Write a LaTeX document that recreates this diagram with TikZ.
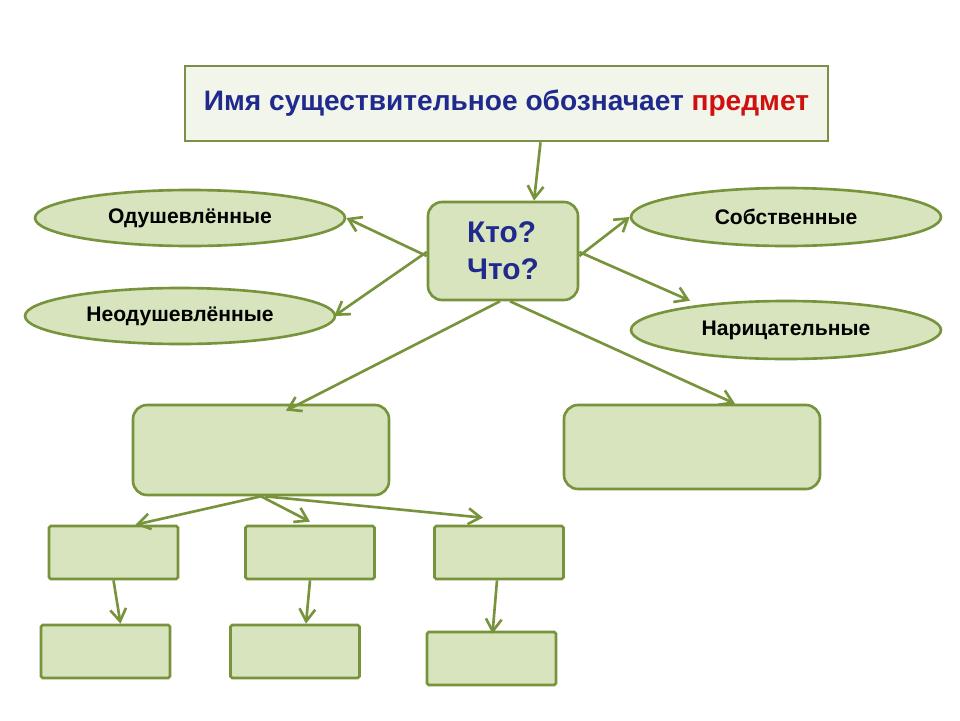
\documentclass[tikz,border=0pt]{standalone}
\usepackage{fontspec}
\setmainfont{Liberation Sans}
\usetikzlibrary{shapes.geometric}
\definecolor{boxfill}{HTML}{D7E4BD}
\definecolor{boxline}{HTML}{77933C}
\definecolor{titlefill}{HTML}{F2F5EA}
\definecolor{darkblue}{HTML}{1F2A8C}
\definecolor{redword}{HTML}{D01010}
\tikzset{
  box/.style={draw=boxline,line width=1.5pt,fill=boxfill,rounded corners=3pt,inner sep=0pt},
  oval/.style={draw=boxline,line width=1.5pt,fill=boxfill,ellipse,inner sep=0pt,font=\bfseries\fontsize{12}{14}\selectfont},
  link/.style={draw=boxline,line width=1.5pt,-{Straight Barb[length=7pt,width=9pt]}}
}
\usetikzlibrary{arrows.meta}
\begin{document}
\begin{tikzpicture}[x=0.02cm,y=-0.02cm]
  \useasboundingbox (0,0) rectangle (960,720);
  \node[draw=boxline!80!gray,line width=1.5pt,fill=titlefill,minimum width=643*0.02cm,minimum height=75*0.02cm,font=\bfseries\fontsize{16}{20}\selectfont]
    (title) at (506.5,103.5) {\textcolor{darkblue}{Имя существительное обозначает} \textcolor{redword}{предмет}};
  \node[box,rounded corners=8pt,minimum width=150*0.02cm,minimum height=98*0.02cm,align=left,font=\bfseries\fontsize{17}{21}\selectfont,text=darkblue]
    (kto) at (503,251) {Кто?\\Что?};
  \node[oval,minimum width=310*0.02cm,minimum height=56*0.02cm] (odush) at (190,218) {Одушевлённые};
  \node[oval,minimum width=310*0.02cm,minimum height=56*0.02cm] (neodush) at (180,316) {Неодушевлённые};
  \node[oval,minimum width=310*0.02cm,minimum height=58*0.02cm] (sobst) at (786,217) {Собственные};
  \node[oval,minimum width=310*0.02cm,minimum height=58*0.02cm] (naric) at (786,330) {Нарицательные};

  \node[box,rounded corners=8pt,minimum width=256*0.02cm,minimum height=90*0.02cm] (bigL) at (261,450) {};
  \node[box,rounded corners=8pt,minimum width=256*0.02cm,minimum height=84*0.02cm] (bigR) at (692,447) {};

  \node[box,rounded corners=1pt,minimum width=129*0.02cm,minimum height=53*0.02cm] (a1) at (113.5,552.5) {};
  \node[box,rounded corners=1pt,minimum width=129*0.02cm,minimum height=53*0.02cm] (a2) at (310,552.5) {};
  \node[box,rounded corners=1pt,minimum width=129*0.02cm,minimum height=53*0.02cm] (a3) at (499,552.5) {};
  \node[box,rounded corners=1pt,minimum width=129*0.02cm,minimum height=53*0.02cm] (b1) at (105.5,651.5) {};
  \node[box,rounded corners=1pt,minimum width=129*0.02cm,minimum height=53*0.02cm] (b2) at (295,651.5) {};
  \node[box,rounded corners=1pt,minimum width=129*0.02cm,minimum height=53*0.02cm] (b3) at (491.5,658.5) {};

  % arrows
  \draw[link] ([xshift=34*0.02cm]title.south) -- ([xshift=31*0.02cm]kto.north);
  \draw[link] ([yshift=-5*0.02cm]kto.west) -- (odush.east);
  \draw[link] ([yshift=-1*0.02cm]kto.west) -- ([xshift=-2*0.02cm]neodush.east);
  \draw[link] ([yshift=-5*0.02cm]kto.east) -- (sobst.west);
  \draw[link] ([yshift=-1*0.02cm]kto.east) -- ([xshift=-96*0.02cm,yshift=-1*0.02cm]naric.north);
  \draw[link] ([xshift=-3*0.02cm]kto.south) -- ([xshift=25*0.02cm,yshift=-7*0.02cm]bigL.north);
  \draw[link] ([xshift=7*0.02cm]kto.south) -- ([xshift=43*0.02cm]bigR.north);
  \draw[link] (bigL.south) -- ([xshift=22*0.02cm]a1.north);
  \draw[link] (bigL.south) -- ([yshift=3*0.02cm]a2.north);
  \draw[link] ([xshift=4*0.02cm]bigL.south) -- ([xshift=-16*0.02cm,yshift=7*0.02cm]a3.north);
  \draw[link] (a1.south) -- ([xshift=15*0.02cm]b1.north);
  \draw[link] (a2.south) -- ([xshift=11*0.02cm]b2.north);
  \draw[link] ([xshift=-2*0.02cm]a3.south) -- ([xshift=1*0.02cm,yshift=-3*0.02cm]b3.north);
\end{tikzpicture}
\end{document}
